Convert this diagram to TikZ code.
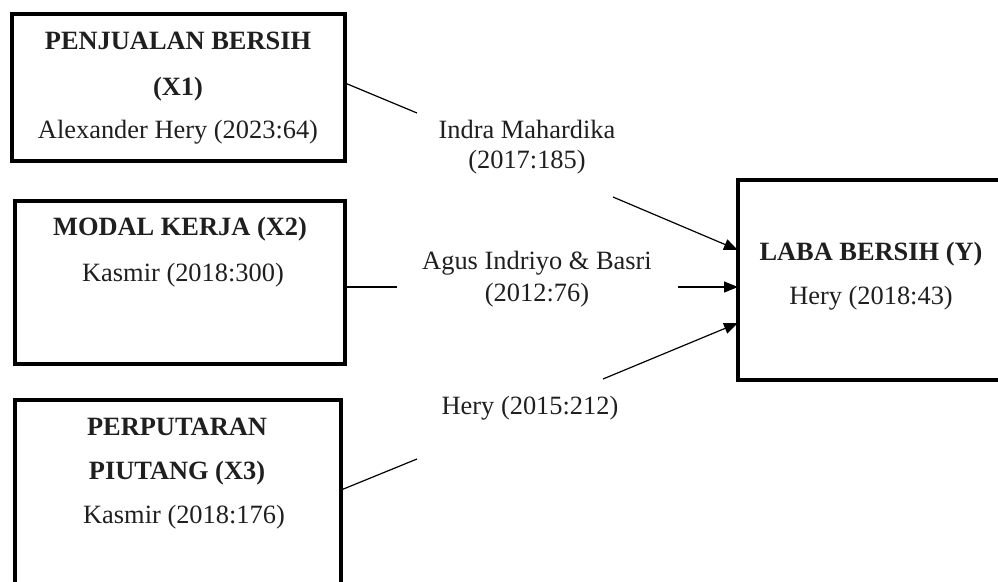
\documentclass[tikz,border=0pt]{standalone}
\usepackage{fontspec}
\setmainfont{Liberation Serif}
\usetikzlibrary{arrows.meta}
\begin{document}
\begin{tikzpicture}[x=1pt,y=-1pt,
  box/.style={draw, line width=4pt, inner sep=0pt, outer sep=0pt},
  txt/.style={inner sep=0pt, text height=19.8pt, text depth=6.6pt,
    font=\fontsize{26.4}{31}\selectfont, text=black!88},
  ttl/.style={txt, font=\fontsize{26.4}{31}\selectfont\bfseries},
  conn/.style={line width=1.2pt},
  arr/.style={conn, -{Triangle[length=14pt,width=11pt]}}]
\useasboundingbox (0,0) rectangle (998,581);
\clip (0,0) rectangle (998,581);
% boxes
\node[box, minimum width=333pt, minimum height=147pt] (x1) at (178.5,87.5) {};
\node[box, minimum width=330pt, minimum height=163pt] (x2) at (180,282.5) {};
\node[box, minimum width=326pt, minimum height=220pt] (x3) at (178,510) {};
\node[box, minimum width=272pt, minimum height=200pt] (y) at (874,280) {};
% box texts
\node[ttl] (t1a) at (178,43) {PENJUALAN BERSIH};
\node[ttl] (t1b) at (178,89) {(X1)};
\node[txt] (t1c) at (178,132) {Alexander Hery (2023:64)};
\node[ttl] (t2a) at (180,229) {MODAL KERJA (X2)};
\node[txt] (t2b) at (183,275) {Kasmir (2018:300)};
\node[ttl] (t3a) at (177,429) {PERPUTARAN};
\node[ttl] (t3b) at (177,473) {PIUTANG (X3)};
\node[txt] (t3c) at (184,517) {Kasmir (2018:176)};
\node[ttl] (t4a) at (871,254) {LABA BERSIH (Y)};
\node[txt] (t4b) at (871,298) {Hery (2018:43)};
% connector labels
\node[txt] (l1a) at (527,132) {Indra Mahardika};
\node[txt] (l1b) at (527,162) {(2017:185)};
\node[txt] (l2a) at (537,263) {Agus Indriyo \& Basri};
\node[txt] (l2b) at (537,295) {(2012:76)};
\node[txt] (l3) at (530,408) {Hery (2015:212)};
% connector break points
\coordinate (c1a) at (417,113);
\coordinate (c1b) at (613,197);
\coordinate (c2a) at (397,287);
\coordinate (c2b) at (678,287);
\coordinate (c3a) at (417,459);
\coordinate (c3b) at (603,379);
% connectors
\draw[conn] (x1.east |- 0,83) -- (c1a);
\draw[arr] (c1b) -- (y.west |- 0,250);
\draw[conn] (x2.east |- 0,287) -- (c2a);
\draw[arr] (c2b) -- (y.west |- 0,287);
\draw[conn] (x3.east |- 0,490) -- (c3a);
\draw[arr] (c3b) -- (y.west |- 0,323);
\end{tikzpicture}
\end{document}
